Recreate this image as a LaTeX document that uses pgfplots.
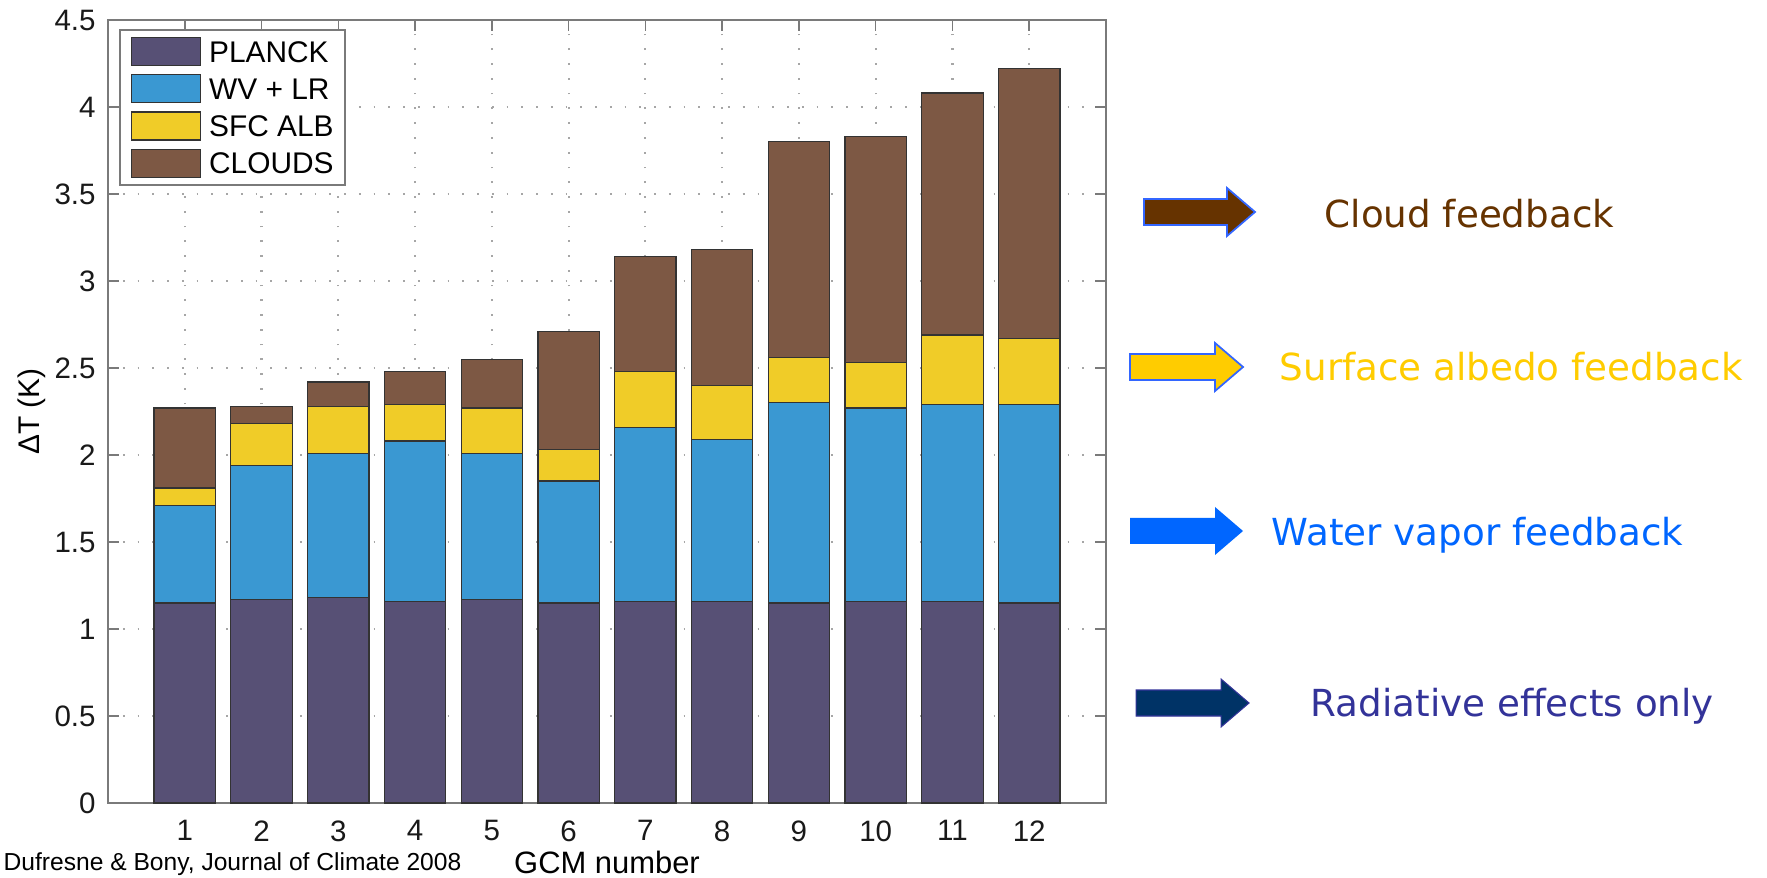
\documentclass[border=0pt]{standalone}
\usepackage{pgfplots}
\pgfplotsset{compat=1.18}
\usepackage{pgfplotstable}
\usepackage{fontspec}
\setmainfont{Liberation Sans}
\newfontfamily\notefont{DejaVu Sans}

\definecolor{planck}{HTML}{575075}
\definecolor{wvlr}{HTML}{3A98D2}
\definecolor{sfcalb}{HTML}{F0CC28}
\definecolor{clouds}{HTML}{7D5844}
\definecolor{cloudtxt}{HTML}{663300}
\definecolor{albtxt}{HTML}{FFCC00}
\definecolor{wvtxt}{HTML}{0066FF}
\definecolor{radfill}{HTML}{003366}
\definecolor{radtxt}{HTML}{333399}
\definecolor{edgeblue}{HTML}{3366FF}
\definecolor{axgray}{HTML}{7A7A7A}

% Contributions to the warming of each GCM (K), stacked from bottom to top
\pgfplotstableread{
gcm planck wvlr sfc clouds
1   1.15   0.56 0.10 0.46
2   1.17   0.77 0.24 0.10
3   1.18   0.83 0.27 0.14
4   1.16   0.92 0.21 0.19
5   1.17   0.84 0.26 0.28
6   1.15   0.70 0.18 0.68
7   1.16   1.00 0.32 0.66
8   1.16   0.93 0.31 0.78
9   1.15   1.15 0.26 1.24
10  1.16   1.11 0.26 1.30
11  1.16   1.13 0.40 1.39
12  1.15   1.14 0.38 1.55
}\feedbacks

% block arrow: #1 style, #2 left x, #3 tip x, #4 centre y (units of 0.1 mm)
\newcommand\blockarrow[4]{%
  \path[#1] (#2,#4-13) -- (#3-28,#4-13) -- (#3-28,#4-24) -- (#3,#4)
    -- (#3-28,#4+24) -- (#3-28,#4+13) -- (#2,#4+13) -- cycle;}

\begin{document}
\begin{tikzpicture}
\begin{axis}[
  at={(10.8mm,7.4mm)}, anchor=south west,
  scale only axis, width=99.8mm, height=78.3mm,
  xmin=0, xmax=13, ymin=0, ymax=4.5,
  xtick={1,...,12},
  ytick={0,0.5,...,4.5},
  yticklabels={0,0.5,1,1.5,2,2.5,3,3.5,4,4.5},
  tick align=inside, major tick length=1.1mm,
  tick style={axgray, line width=0.45pt},
  axis line style={axgray, line width=0.5pt},
  grid=major,
  major grid style={gray!70, line width=0.6pt, dash pattern=on 0.5pt off 3.7pt},
  /pgf/number format/assume math mode=true,
  tick label style={font=\fontsize{8.4}{9}\selectfont, text=black!90},
  xticklabel style={yshift=-0.5mm},
  xlabel={GCM number},
  xlabel style={at={(axis description cs:0.5,0)}, anchor=base,
    yshift=-7.0mm, font=\fontsize{8.8}{10}\selectfont},
  ylabel={ΔT (K)},
  ylabel style={at={(axis description cs:0,0.5)}, anchor=center,
    yshift=7.65mm, font=\fontsize{8.5}{10}\selectfont},
  ybar stacked, bar width=0.8,
  every axis plot/.append style={draw=black!80, line width=0.35pt},
  legend cell align=left,
  legend image code/.code={\draw[#1, line width=0.35pt] (0mm,-1.4mm) rectangle (6.9mm,1.4mm);},
  legend style={at={(0,1)}, anchor=north west, xshift=1.1mm, yshift=-0.9mm,
    draw=axgray, line width=0.5pt, fill=white,
    inner xsep=1.1mm, inner ysep=0.7mm, row sep=0.8mm, column sep=0.8mm,
    font=\fontsize{8.5}{10}\selectfont,
    nodes={inner sep=0pt, text height=2.15mm, text depth=0mm}},
]
\addplot[fill=planck] table[x=gcm, y=planck] {\feedbacks};
\addplot[fill=wvlr] table[x=gcm, y=wvlr] {\feedbacks};
\addplot[fill=sfcalb] table[x=gcm, y=sfc] {\feedbacks};
\addplot[fill=clouds] table[x=gcm, y=clouds] {\feedbacks};
\legend{PLANCK, WV + LR, SFC ALB, CLOUDS}
\end{axis}

% feedback annotations on the right
\begin{scope}[x=0.1mm, y=0.1mm]
  \blockarrow{fill=cloudtxt, draw=edgeblue, line width=0.5pt}{1144}{1255}{665}
  \blockarrow{fill=albtxt, draw=edgeblue, line width=0.5pt}{1130}{1243}{510}
  \blockarrow{fill=wvtxt}{1130}{1243}{346}
  \blockarrow{fill=radfill, draw=radtxt, line width=0.3pt}{1136}{1249}{174}
  \begin{scope}[every node/.style={anchor=base west, inner sep=0pt,
      font=\notefont\fontsize{10.6}{12}\selectfont}]
    \node[text=cloudtxt] at (1324,649) {Cloud feedback};
    \node[text=albtxt]   at (1279,496) {Surface albedo feedback};
    \node[text=wvtxt]    at (1271,332) {Water vapor feedback};
    \node[text=radtxt]   at (1310,161) {Radiative effects only};
  \end{scope}
  \node[anchor=base west, inner sep=0pt, font=\fontsize{7}{8}\selectfont]
    at (3,7) {Dufresne \& Bony, Journal of Climate 2008};
\end{scope}

\pgfresetboundingbox
\useasboundingbox (0,0) rectangle (176.7mm,87.7mm);
\end{tikzpicture}
\end{document}
